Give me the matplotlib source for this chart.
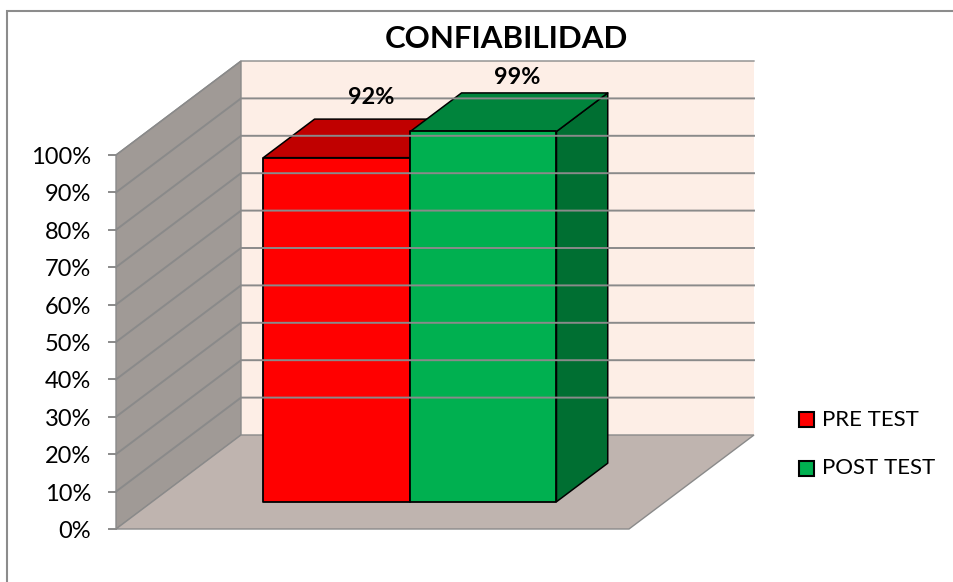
# -*- coding: utf-8 -*-

import matplotlib.pyplot as plt
from matplotlib.patches import Polygon, Rectangle

plt.rcParams['font.family'] = ['Lato', 'DejaVu Sans']

categories = ['PRE TEST', 'POST TEST']
values = [92, 99]
value_labels = ['92%', '99%']
ticks = [0, 10, 20, 30, 40, 50, 60, 70, 80, 90, 100]
title = 'CONFIABILIDAD'

face_colors = ['#FF0000', '#00B050']
top_colors = ['#C00000', '#00843C']
side_colors = ['#A80000', '#006F32']

# box geometry in pixels
x0, x1 = 116, 629
y0, y100 = 529, 155
dx, dy = 125, -94
bar_depth = (0.29, 0.70)
bar_edges = [0.2165, 0.503, 0.788]


def proj(u, val, t):
    # u across the floor, val in percent, t front to back
    x = x0 + u * (x1 - x0) + t * dx
    y = y0 + val / 100 * (y100 - y0) + t * dy
    return x, y


fig = plt.figure(figsize=(9.54, 5.82), dpi=100)
ax = fig.add_axes([0, 0, 1, 1])
ax.set_xlim(0, 954)
ax.set_ylim(582, 0)
ax.axis('off')

# the frame only shows on the top and left, it runs off the picture
ax.plot([7, 7, 954], [582, 11, 11], color='#8c8c8c', lw=1.5, solid_joinstyle='miter')

# walls and floor
grey = '#8a8a8a'
ax.add_patch(Polygon([proj(0, 0, 1), proj(1, 0, 1), proj(1, 100, 1), proj(0, 100, 1)],
                     fc='#FDEEE6', ec='none'))
ax.add_patch(Polygon([proj(0, 0, 0), proj(0, 0, 1), proj(0, 100, 1), proj(0, 100, 0)],
                     fc='#A09A96', ec=grey, lw=1))
ax.add_patch(Polygon([proj(0, 0, 0), proj(1, 0, 0), proj(1, 0, 1), proj(0, 0, 1)],
                     fc='#BFB4AF', ec=grey, lw=1))

for v in ticks:
    pts = [proj(0, v, 0), proj(0, v, 1), proj(1, v, 1)]
    if v > 0:
        ax.plot([p[0] for p in pts], [p[1] for p in pts], color=grey, lw=1.4 if v < 100 else 1,
                solid_joinstyle='miter')
    px, py = proj(0, v, 0)
    ax.plot([px - 7, px], [py, py], color=grey, lw=1.4)
    ax.text(px - 25, py + 2.5, f'{v}%', ha='right', va='center', fontsize=17, color='black')

# bars, left one first so the right one covers it
t0, t1 = bar_depth
for i in [0, 1]:
    u0, u1 = bar_edges[i], bar_edges[i + 1]
    v = values[i]
    ax.add_patch(Polygon([proj(u1, 0, t0), proj(u1, 0, t1), proj(u1, v, t1), proj(u1, v, t0)],
                         fc=side_colors[i], ec='black', lw=1.1, joinstyle='round'))
    ax.add_patch(Polygon([proj(u0, v, t0), proj(u0, v, t1), proj(u1, v, t1), proj(u1, v, t0)],
                         fc=top_colors[i], ec='black', lw=1.1, joinstyle='round'))
    ax.add_patch(Polygon([proj(u0, 0, t0), proj(u1, 0, t0), proj(u1, v, t0), proj(u0, v, t0)],
                         fc=face_colors[i], ec='black', lw=1.3, joinstyle='round'))

# value labels sit over the top of each bar
label_xy = [(371, 98), (517, 78)]
for (lx, ly), txt in zip(label_xy, value_labels):
    ax.text(lx, ly, txt, ha='center', va='center', fontsize=16.8, fontweight='bold', color='black')

ax.text(506, 39, title, ha='center', va='center', fontsize=22.5, fontweight='bold', color='black')

# legend
legend_y = [419.5, 468]
for name, c, ly in zip(categories, face_colors, legend_y):
    ax.add_patch(Rectangle((799.5, ly - 7.5), 15, 15, fc=c, ec='black', lw=1.5))
    ax.text(822, ly, name, ha='left', va='center', fontsize=16, color='black')

fig.savefig('out.png', dpi=100)
